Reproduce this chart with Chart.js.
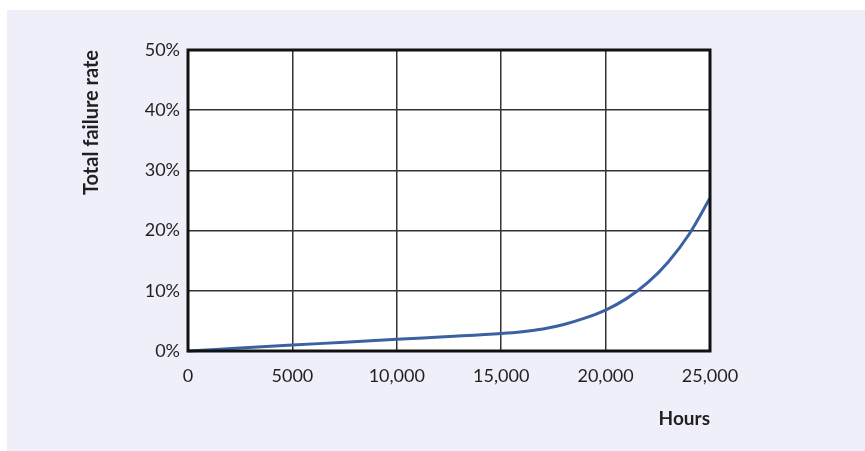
<!DOCTYPE html>
<html>
<head>
<meta charset="utf-8">
<script src="https://cdn.jsdelivr.net/npm/chart.js@4.4.1/dist/chart.umd.min.js"></script>
<style>
  html, body { margin: 0; padding: 0; background: #ffffff; }
  .panel {
    position: absolute; left: 7px; top: 10px;
    width: 858px; height: 441px;
    background: #eeeff8;
  }
  canvas { display: block; }
</style>
</head>
<body>
<div class="panel">
  <canvas id="failureChart" width="858" height="441"></canvas>
</div>
<script>
// Hours on the x axis, failure rate (%) on the y axis
const hours = [0, 2500, 5000, 7500, 10000, 12500, 15000, 16000, 17000, 18000, 19000, 20000, 21000, 22000, 23000, 24000, 25000];
const failureRate = [0, 0.5, 1.0, 1.45, 1.95, 2.4, 2.9, 3.2, 3.65, 4.4, 5.45, 6.8, 8.7, 11.3, 14.8, 19.4, 25.4];
const xTicks = [0, 5000, 10000, 15000, 20000, 25000];
const xTickLabels = ['0', '5000', '10,000', '15,000', '20,000', '25,000'];
const yTicks = [0, 10, 20, 30, 40, 50];

const lineColor = '#3a62a2';
const textColor = '#231f20';
const fontFamily = "Lato, 'Open Sans', sans-serif";

// white plot background + full frame around the plot
const frame = {
  id: 'frame',
  beforeDraw(chart) {
    const { ctx, chartArea: a } = chart;
    ctx.save();
    ctx.fillStyle = '#ffffff';
    ctx.fillRect(a.left, a.top, a.right - a.left, a.bottom - a.top);
    ctx.restore();
  },
  afterDraw(chart) {
    const { ctx, chartArea: a } = chart;
    ctx.save();
    ctx.strokeStyle = '#111111';
    ctx.lineWidth = 3;
    ctx.strokeRect(a.left, a.top, a.right - a.left, a.bottom - a.top);
    ctx.restore();
  }
};

const points = hours.map((h, i) => ({ x: h, y: failureRate[i] }));

new Chart(document.getElementById('failureChart').getContext('2d'), {
  type: 'line',
  data: {
    datasets: [{
      data: points,
      borderColor: lineColor,
      borderWidth: 3,
      pointRadius: 0,
      fill: false,
      cubicInterpolationMode: 'monotone',
      clip: false
    }]
  },
  options: {
    responsive: false,
    animation: false,
    layout: { padding: { left: 69, top: 40, right: 155, bottom: 17 } },
    plugins: {
      legend: { display: false },
      tooltip: { enabled: false }
    },
    scales: {
      x: {
        type: 'linear',
        min: 0,
        max: 25000,
        afterBuildTicks: scale => { scale.ticks = xTicks.map(v => ({ value: v })); },
        afterFit: scale => { scale.height = 83; },
        grid: { color: '#333333', lineWidth: 1.5, drawTicks: false },
        border: { display: false },
        ticks: {
          padding: 14,
          color: textColor,
          font: { family: fontFamily, size: 18 },
          maxRotation: 0,
          callback: (v) => xTickLabels[xTicks.indexOf(v)]
        },
        title: {
          display: true,
          text: 'Hours',
          align: 'end',
          color: textColor,
          font: { family: fontFamily, size: 19, weight: 'bold' },
          padding: { top: 4, bottom: 4 }
        }
      },
      y: {
        min: 0,
        max: 50,
        afterBuildTicks: scale => { scale.ticks = yTicks.map(v => ({ value: v })); },
        afterFit: scale => { scale.width = 112; },
        grid: { color: '#333333', lineWidth: 1.5, drawTicks: false },
        border: { display: false },
        ticks: {
          padding: 8,
          color: textColor,
          font: { family: fontFamily, size: 18 },
          callback: v => v + '%'
        },
        title: {
          display: true,
          text: 'Total failure rate',
          align: 'end',
          color: textColor,
          font: { family: fontFamily, size: 20, weight: 'bold' },
          padding: { top: 4, bottom: 4 }
        }
      }
    }
  },
  plugins: [frame]
});
</script>
</body>
</html>
